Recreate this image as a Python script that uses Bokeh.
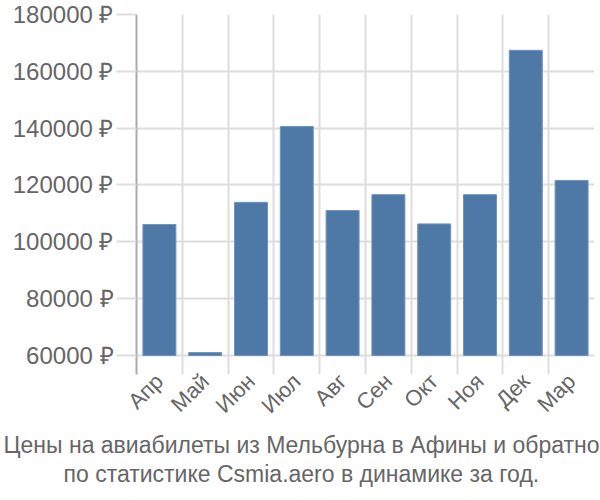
import numpy as np
from bokeh.plotting import figure
from bokeh.models import FixedTicker, Title, ColumnDataSource
from bokeh.embed import file_html
from bokeh.resources import INLINE

months = ["Апр", "Май", "Июн", "Июл", "Авг", "Сен", "Окт", "Ноя", "Дек", "Мар"]
prices = [106100, 61000, 113900, 140600, 111000, 116600, 106300, 116600, 167400, 121600]
y_ticks = [60000, 80000, 100000, 120000, 140000, 160000, 180000]
caption = ["Цены на авиабилеты из Мельбурна в Афины и обратно",
           "по статистике Csmia.aero в динамике за год."]

FONT = "Liberation Sans"
GREY = "#666666"

n = len(months)
centers = [i + 0.5 for i in range(n)]
src = ColumnDataSource(dict(x=centers, top=prices, bottom=[60000] * n))

p = figure(frame_width=458, frame_height=360, x_range=(0, n), y_range=(53300, 180000),
           output_backend="svg", toolbar_location=None,
           min_border_left=136, min_border_right=6, min_border_top=14, min_border_bottom=10)
p.outline_line_color = None
p.background_fill_color = "white"
p.border_fill_color = "white"

p.vbar(x="x", top="top", bottom="bottom", width=0.72, source=src,
       fill_color="#4e79a7", line_color="#6f93bd", line_width=1)

# y axis
p.yaxis.ticker = FixedTicker(ticks=y_ticks)
p.yaxis.major_label_overrides = {t: f"{t} ₽" for t in y_ticks}
p.yaxis.major_label_text_font = FONT
p.yaxis.major_label_text_font_size = "24px"
p.yaxis.major_label_text_color = GREY
p.yaxis.axis_line_color = "#aaaaaa"
p.yaxis.axis_line_width = 2
p.yaxis.major_tick_out = 20
p.yaxis.major_tick_in = 0
p.yaxis.major_tick_line_color = "#dddddd"
p.yaxis.major_tick_line_width = 2
p.yaxis.minor_tick_line_color = None
p.yaxis.major_label_standoff = 3
p.ygrid.ticker = FixedTicker(ticks=y_ticks)
p.ygrid.grid_line_color = "#dddddd"
p.ygrid.grid_line_width = 2

# x axis
p.xaxis.ticker = FixedTicker(ticks=centers)
p.xaxis.major_label_overrides = {c: m for c, m in zip(centers, months)}
p.xaxis.major_label_orientation = np.pi / 4
p.xaxis.major_label_text_font = FONT
p.xaxis.major_label_text_font_size = "22px"
p.xaxis.major_label_text_color = GREY
p.xaxis.axis_line_color = None
p.xaxis.major_tick_line_color = None
p.xaxis.minor_tick_line_color = None
p.xaxis.major_label_standoff = -3
p.xgrid.ticker = FixedTicker(ticks=list(range(n + 1)))
p.xgrid.grid_line_color = "#dddddd"
p.xgrid.grid_line_width = 2

# caption below the chart, left-aligned titles shifted to sit centred on the page
offsets = [-133, -73]
for line, off in zip(caption, offsets):
    p.add_layout(Title(text=line, align="left", offset=off, text_font=FONT,
                       text_font_size="23px", text_font_style="normal",
                       text_color=GREY, standoff=1), "below")

open("out.html", "w").write(file_html(p, INLINE))
